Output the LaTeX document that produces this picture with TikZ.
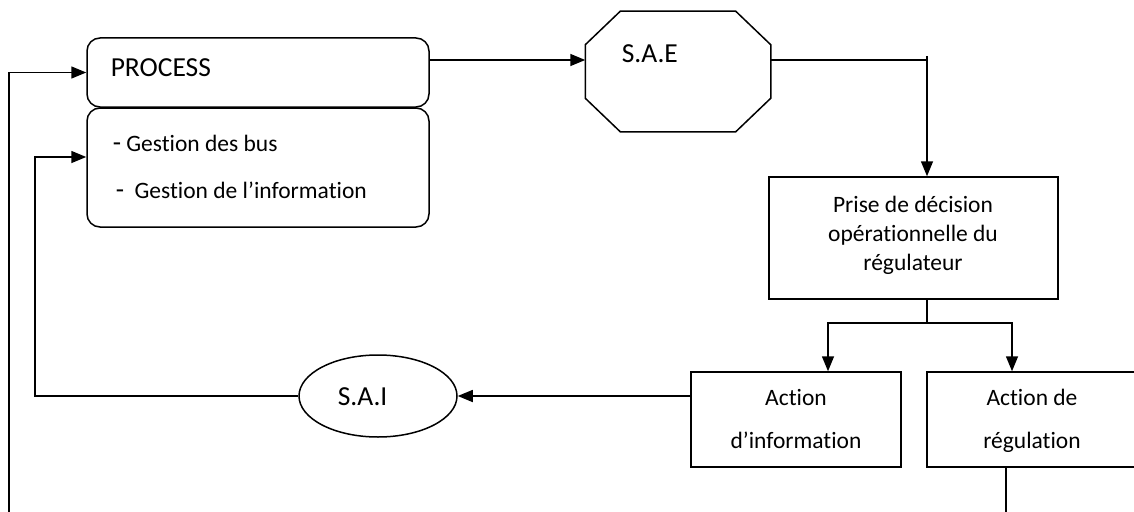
\documentclass[tikz,border=0pt]{standalone}
\usepackage{fontspec}
\setmainfont{Carlito}[Ligatures=NoCommon]
\usetikzlibrary{arrows.meta,shapes.geometric}
\begin{document}
\begin{tikzpicture}[x=1pt,y=-1pt,
  line width=1.5pt,
  arr/.style={-{Triangle[length=15pt,width=12pt]}},
  rbox/.style={draw, rounded corners=13pt, minimum width=342pt, inner sep=0pt},
  sbox/.style={draw, rectangle, inner sep=0pt},
  big/.style={font=\fontsize{27.5}{30}\selectfont, inner sep=0pt},
  txt/.style={font=\fontsize{23.5}{28}\selectfont, inner sep=0pt},
]
\clip (0,0) rectangle (1134,511);
% shapes
\node[rbox, minimum height=69pt] (process) at (258,72.5) {};
\node[rbox, minimum height=119pt] (gest) at (258,167.5) {};
\node[rectangle, minimum width=184pt, minimum height=119pt, inner sep=0pt] (sae) at (678,71.5) {};
\draw[line join=miter] ([xshift=35pt]sae.north west) -- ([xshift=-35pt]sae.north east)
  -- ([yshift=-33.5pt]sae.north east) -- ([yshift=33.5pt]sae.south east)
  -- ([xshift=-35pt]sae.south east) -- ([xshift=35pt]sae.south west)
  -- ([yshift=33.5pt]sae.south west) -- ([yshift=-33.5pt]sae.north west) -- cycle;
\node[sbox, minimum width=289pt, minimum height=122pt] (prise) at (913.5,238) {};
\node[sbox, minimum width=210pt, minimum height=95pt] (ainfo) at (796,419.5) {};
\node[sbox, minimum width=213pt, minimum height=95pt] (areg) at (1033.5,419.5) {};
\node[draw, ellipse, minimum width=158pt, minimum height=82pt, inner sep=0pt] (sai) at (378,396) {};
% texts
\node[big, anchor=base west] (tprocess) at (110,76) {PROCESS};
\node[txt, anchor=base west] (tg1) at (112,151) {{\fontsize{27}{28}\selectfont -} Gestion des bus};
\node[txt, anchor=base west] (tg2) at (115,198) {{\fontsize{27}{28}\selectfont -}\ \ Gestion de l’information};
\node[big, anchor=base west] (tsae) at (621,63) {S.A.E};
\node[big, anchor=base west] (tsai) at (337,405) {S.A.I};
\node[txt, anchor=base] (tp1) at (913,212) {Prise de décision};
\node[txt, anchor=base] (tp2) at (913,241) {opérationnelle du};
\node[txt, anchor=base] (tp3) at (913,270) {régulateur};
\node[txt, anchor=base] (ta1) at (796,405) {Action};
\node[txt, anchor=base] (ta2) at (796,448) {d’information};
\node[txt, anchor=base] (tr1) at (1032,405) {Action de};
\node[txt, anchor=base] (tr2) at (1032,448) {régulation};
% helper coordinates
\coordinate (tick) at (927,56);
\coordinate (corner) at (927,60);
\coordinate (split) at (927,323);
\coordinate (ai) at (828,0);
\coordinate (ar) at (1012,0);
\coordinate (l2) at (35,157);
\coordinate (l1) at (9,0);
\coordinate (r1) at (1006,530);
% connectors
\draw[arr] (process.east |- corner) -- (sae.west |- corner);
\draw (sae.east |- corner) -- (corner);
\draw[arr] (tick) -- (tick |- prise.north);
\draw (prise.south -| split) -- (split);
\draw[arr] (split) -| (ai |- ainfo.north);
\draw[arr] (split) -| (ar |- areg.north);
\draw[arr] (ainfo.west |- sai.east) -- (sai.east);
\draw[arr] (sai.west) -| (l2) -- (gest.west |- l2);
\draw[arr] (areg.south -| r1) -- (r1) -| (process.west -| l1) -- (process.west);
\end{tikzpicture}
\end{document}
